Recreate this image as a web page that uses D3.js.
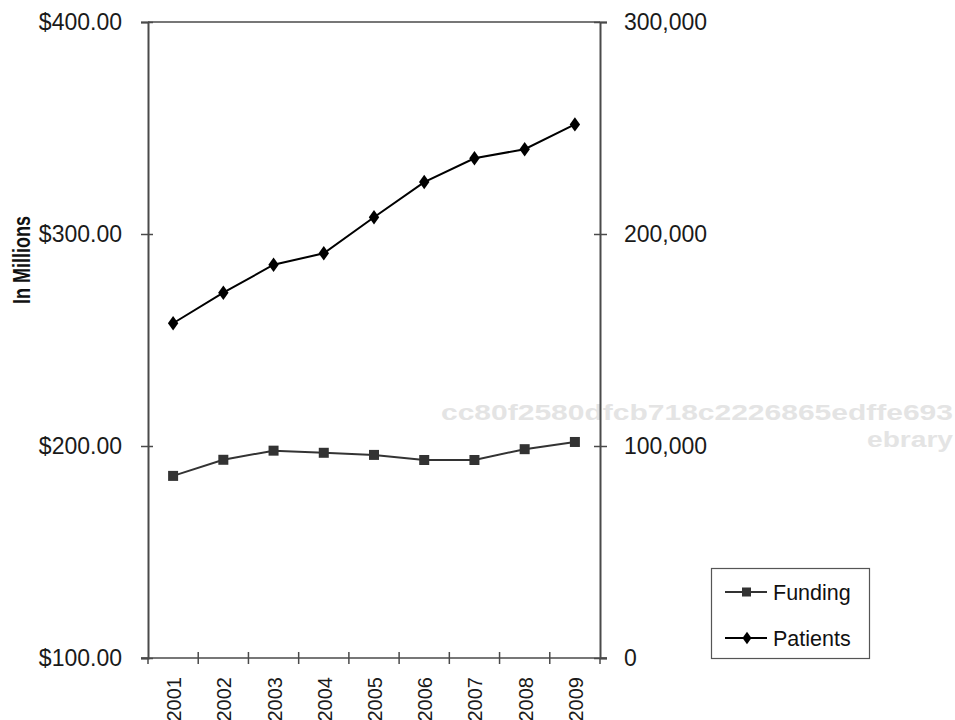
<!DOCTYPE html>
<html>
<head>
<meta charset="utf-8">
<script src="https://cdn.jsdelivr.net/npm/d3@7"></script>
<style>
  html, body { margin: 0; padding: 0; background: #fff; }
  svg { display: block; }
  text { font-family: "Liberation Sans", Arial, sans-serif; }
</style>
</head>
<body>
<svg id="chart" width="955" height="720"></svg>
<script>
// ---- Data ----
const years = ["2001","2002","2003","2004","2005","2006","2007","2008","2009"];
const funding = [185.9, 193.5, 197.8, 196.8, 195.8, 193.4, 193.4, 198.5, 201.9]; // $ millions
const patients = [157900, 172300, 185500, 190900, 207900, 224500, 235700, 240000, 251700];
const leftTicks = [100, 200, 300, 400];
const rightTicks = [0, 100000, 200000, 300000];
const seriesNames = ["Funding", "Patients"];

// ---- Layout ----
const L = 148, R = 600, T = 22, B = 658;
const svg = d3.select("#chart");

const x = d3.scaleBand().domain(years).range([L, R]).padding(0);
const yL = d3.scaleLinear().domain([100, 400]).range([B, T]);
const yR = d3.scaleLinear().domain([0, 300000]).range([B, T]);

// watermark (behind everything)
const wm = svg.append("g").attr("fill", "#e4e4e4")
  .style("font-family", "'DejaVu Sans', sans-serif").style("font-weight", "bold");
wm.append("text").attr("x", 953).attr("y", 420).attr("text-anchor", "end")
  .attr("font-size", 22).attr("textLength", 512).attr("lengthAdjust", "spacingAndGlyphs")
  .text("cc80f2580dfcb718c2226865edffe693");
wm.append("text").attr("x", 953).attr("y", 447).attr("text-anchor", "end")
  .attr("font-size", 22).attr("textLength", 86).attr("lengthAdjust", "spacingAndGlyphs")
  .text("ebrary");

const axisColor = "#4a4a4a";

// top border
svg.append("line").attr("x1", L).attr("x2", R).attr("y1", T).attr("y2", T)
  .attr("stroke", axisColor).attr("stroke-width", 1.5);

// left axis
const gL = svg.append("g").attr("transform", `translate(${L},0)`)
  .call(d3.axisLeft(yL).tickValues(leftTicks).tickFormat(d => "$" + d3.format(".2f")(d)).tickSize(7).tickPadding(19));
gL.select(".domain").attr("stroke", axisColor).attr("stroke-width", 2);
gL.selectAll(".tick line").attr("x1", -7).attr("x2", 5).attr("stroke", axisColor).attr("stroke-width", 1.5);
gL.selectAll(".tick text").attr("font-size", 23).attr("fill", "#1a1a1a")
  .style("font-family", "'Liberation Sans', Arial, sans-serif");

// right axis
const gR = svg.append("g").attr("transform", `translate(${R},0)`)
  .call(d3.axisRight(yR).tickValues(rightTicks).tickFormat(d3.format(",")).tickSize(7).tickPadding(17));
gR.select(".domain").attr("stroke", axisColor).attr("stroke-width", 2);
gR.selectAll(".tick line").attr("x1", -6).attr("x2", 7).attr("stroke", axisColor).attr("stroke-width", 1.5);
gR.selectAll(".tick text").attr("font-size", 23).attr("fill", "#1a1a1a")
  .style("font-family", "'Liberation Sans', Arial, sans-serif");

// bottom axis
const gB = svg.append("g");
gB.append("line").attr("x1", L - 7).attr("x2", R + 7).attr("y1", B).attr("y2", B)
  .attr("stroke", axisColor).attr("stroke-width", 1.5);
gB.selectAll("line.xt").data(years.slice(1)).join("line").attr("class", "xt")
  .attr("x1", d => x(d)).attr("x2", d => x(d)).attr("y1", B - 6).attr("y2", B + 6)
  .attr("stroke", axisColor).attr("stroke-width", 1.5);
[L, R].forEach(px => gB.append("line").attr("x1", px).attr("x2", px).attr("y1", B).attr("y2", B + 6)
  .attr("stroke", axisColor).attr("stroke-width", 1.5));
gB.selectAll("text.yr").data(years).join("text").attr("class", "yr")
  .attr("transform", d => `translate(${x(d) + x.bandwidth() / 2 + 1},677) rotate(-90)`)
  .attr("text-anchor", "end").attr("dy", "0.35em")
  .attr("font-size", 20).attr("fill", "#1a1a1a").text(d => d);

// y title
svg.append("text").attr("transform", "translate(22,260) rotate(-90) scale(1,1.2)")
  .attr("text-anchor", "middle").attr("dy", "0.35em")
  .attr("font-size", 20).attr("font-weight", "bold").attr("fill", "#111")
  .attr("textLength", 88).attr("lengthAdjust", "spacingAndGlyphs").text("In Millions");

// lines
const cx = d => x(d) + x.bandwidth() / 2;
const fundData = years.map((y, i) => ({ y, v: funding[i] }));
const patData = years.map((y, i) => ({ y, v: patients[i] }));

const fundColor = "#333", patColor = "#000";
svg.append("path").datum(fundData)
  .attr("d", d3.line().x(d => cx(d.y)).y(d => yL(d.v)))
  .attr("fill", "none").attr("stroke", fundColor).attr("stroke-width", 2);
svg.selectAll("rect.fm").data(fundData).join("rect").attr("class", "fm")
  .attr("x", d => cx(d.y) - 5).attr("y", d => yL(d.v) - 5).attr("width", 10).attr("height", 10)
  .attr("fill", fundColor);

svg.append("path").datum(patData)
  .attr("d", d3.line().x(d => cx(d.y)).y(d => yR(d.v)))
  .attr("fill", "none").attr("stroke", patColor).attr("stroke-width", 2);
const diamond = d3.symbol().type(d3.symbolDiamond).size(60);
svg.selectAll("path.pm").data(patData).join("path").attr("class", "pm")
  .attr("transform", d => `translate(${cx(d.y)},${yR(d.v)}) scale(1.25,1)`)
  .attr("d", diamond).attr("fill", patColor);

// legend
const lg = svg.append("g");
lg.append("rect").attr("x", 711.5).attr("y", 568.5).attr("width", 158).attr("height", 90)
  .attr("fill", "#fff").attr("stroke", "#555").attr("stroke-width", 1.2);
const legendItems = [
  { name: seriesNames[0], color: fundColor, type: "square", y: 592 },
  { name: seriesNames[1], color: patColor, type: "diamond", y: 638 }
];
legendItems.forEach(it => {
  lg.append("line").attr("x1", 725).attr("x2", 767).attr("y1", it.y).attr("y2", it.y)
    .attr("stroke", it.color).attr("stroke-width", 2);
  if (it.type === "square") {
    lg.append("rect").attr("x", 742).attr("y", it.y - 4.5).attr("width", 9).attr("height", 9).attr("fill", it.color);
  } else {
    lg.append("path").attr("transform", `translate(747,${it.y}) scale(1.25,1)`)
      .attr("d", d3.symbol().type(d3.symbolDiamond).size(45)).attr("fill", it.color);
  }
  lg.append("text").attr("x", 773).attr("y", it.y).attr("dy", "0.35em")
    .attr("font-size", 21.5).attr("fill", "#111").text(it.name);
});
</script>
</body>
</html>
